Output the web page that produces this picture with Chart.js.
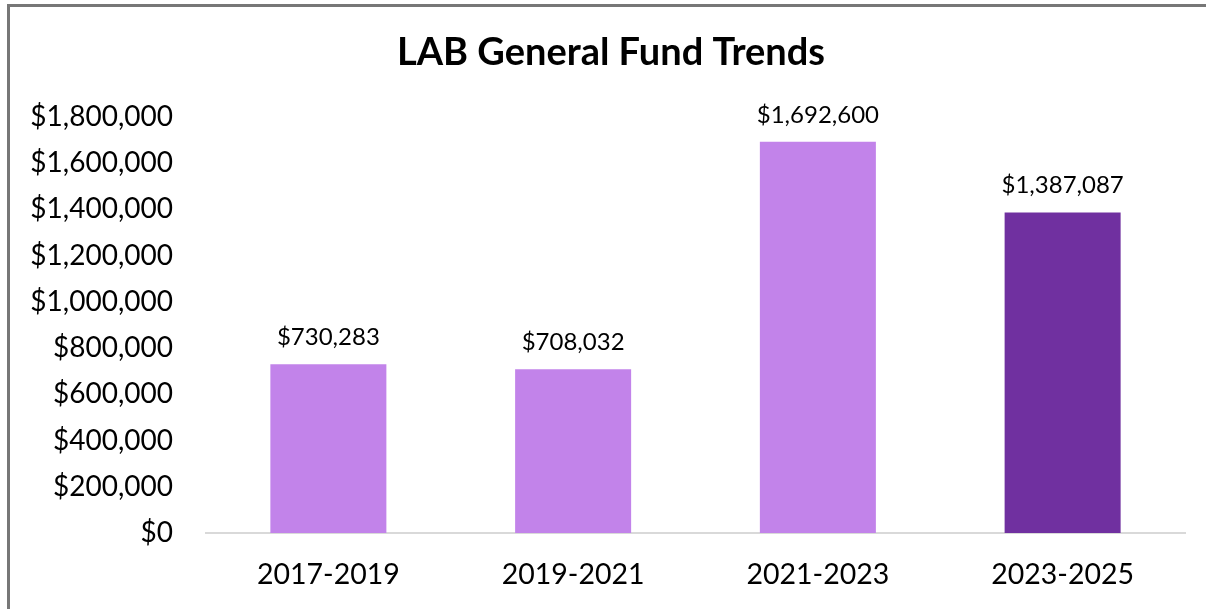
<!DOCTYPE html>
<html>
<head>
<meta charset="utf-8">
<title>LAB General Fund Trends</title>
<script src="https://cdn.jsdelivr.net/npm/chart.js@4"></script>
<style>
  html, body { margin: 0; padding: 0; background: #fff; overflow: hidden; }
  #frame {
    position: absolute; left: 7px; top: 4px;
    width: 1400px; height: 800px;
    border: 3px solid #777;
  }
  #chart { position: absolute; left: 0; top: 0; }
</style>
</head>
<body>
<div id="frame"></div>
<canvas id="chart" width="1206" height="609"></canvas>
<script>
// biennium budget data
const chartTitle = "LAB General Fund Trends";
const periods = ["2017-2019", "2019-2021", "2021-2023", "2023-2025"];
const fundValues = [730283, 708032, 1692600, 1387087];
const barColors = ["#c283ea", "#c283ea", "#c283ea", "#7030a0"];
const yTicks = [0, 200000, 400000, 600000, 800000, 1000000, 1200000, 1400000, 1600000, 1800000];

const money = (v) => "$" + Number(v).toLocaleString("en-US");

// title centred over the plot area plus the label column
const titleText = {
  id: "titleText",
  afterDraw(chart) {
    const ctx = chart.ctx;
    ctx.save();
    ctx.font = "bold 38px Lato";
    ctx.fillStyle = "#000";
    ctx.textAlign = "center";
    ctx.textBaseline = "middle";
    ctx.fillText(chartTitle, (chart.chartArea.right + 37) / 2, 53);
    ctx.restore();
  },
};

// draws the dollar amount above each bar
const valueLabels = {
  id: "valueLabels",
  afterDatasetsDraw(chart) {
    const ctx = chart.ctx;
    const meta = chart.getDatasetMeta(0);
    ctx.save();
    ctx.font = "24px Lato";
    ctx.fillStyle = "#000";
    ctx.textAlign = "center";
    ctx.textBaseline = "alphabetic";
    meta.data.forEach((bar, i) => {
      ctx.fillText(money(fundValues[i]), bar.x, bar.y - 19);
    });
    ctx.restore();
  },
};

const ctx = document.getElementById("chart").getContext("2d");
new Chart(ctx, {
  type: "bar",
  data: {
    labels: periods,
    datasets: [
      {
        label: "General Fund",
        data: fundValues,
        backgroundColor: barColors,
        borderWidth: 0,
        barPercentage: 0.474,
        categoryPercentage: 1,
      },
    ],
  },
  options: {
    responsive: false,
    animation: false,
    layout: { padding: { top: 117, left: 0, right: 21, bottom: 20 } },
    plugins: {
      legend: { display: false },
      tooltip: { enabled: false },
      title: { display: false },
    },
    scales: {
      x: {
        afterFit: (scale) => {
          scale.height = 56;
        },
        grid: { display: false, drawTicks: false },
        border: { display: true, color: "#d9d9d9", width: 2 },
        ticks: { color: "#000", font: { family: "Lato", size: 28.5 }, padding: 25, maxRotation: 0 },
      },
      y: {
        min: 0,
        max: 1800000,
        afterBuildTicks: (scale) => {
          scale.ticks = yTicks.map((v) => ({ value: v }));
        },
        afterFit: (scale) => {
          scale.width = 206;
        },
        grid: { display: false, drawTicks: false },
        border: { display: false },
        ticks: {
          color: "#000",
          font: { family: "Lato", size: 28 },
          padding: 33,
          callback: (v) => money(v),
        },
      },
    },
  },
  plugins: [valueLabels, titleText],
});
</script>
</body>
</html>
